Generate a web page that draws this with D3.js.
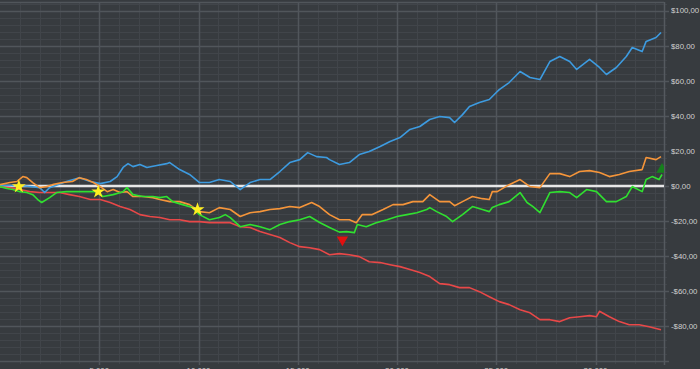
<!DOCTYPE html>
<html>
<head>
<meta charset="utf-8">
<script src="https://cdn.jsdelivr.net/npm/d3@7"></script>
<style>
  html, body { margin: 0; padding: 0; background: #373b3f; overflow: hidden; }
  svg { display: block; }
</style>
</head>
<body>
<svg id="chart"></svg>
<script>
// trade number vs cumulative profit ($)
const blueSeries = [[0,0.2],[500,0.2],[1000,0.2],[1500,-0.4],[2000,-1.0],[2250,-3.8],[2500,-1.0],[3350,2.5],[4000,4.7],[4550,2.5],[5050,1.3],[5550,2.5],[5900,5.3],[6200,10.5],[6450,12.7],[6700,11.0],[7050,12.2],[7400,10.5],[7900,11.6],[8400,12.7],[8550,13.3],[9050,9.3],[9550,6.5],[10050,1.9],[10550,1.9],[11050,3.6],[11600,2.5],[12100,-2.1],[12600,1.9],[13100,3.6],[13600,3.6],[14100,8.2],[14600,13.3],[15100,15.0],[15500,19.0],[15950,16.7],[16450,16.2],[16600,15.0],[17100,12.2],[17600,13.3],[18100,17.9],[18600,19.6],[19150,22.5],[19650,25.3],[20150,27.6],[20650,32.2],[21150,33.9],[21650,37.9],[22150,39.6],[22650,39.0],[22900,36.2],[23300,40.7],[23650,45.3],[24150,47.6],[24650,49.3],[25000,53.3],[25150,55.0],[25650,59.0],[26200,65.3],[26700,61.9],[27200,60.7],[27700,71.0],[28200,73.9],[28700,71.0],[29050,66.5],[29700,72.2],[30200,67.6],[30550,63.6],[31050,67.6],[31550,73.9],[31850,79.0],[32350,76.7],[32550,82.5],[33050,84.7],[33300,87.6]];

const orangeSeries = [[0,0.7],[500,1.9],[850,2.5],[1150,5.3],[1350,4.7],[1650,1.9],[2000,-1.0],[2350,-0.4],[2650,0.7],[3150,1.9],[3650,2.5],[4000,4.7],[4350,3.6],[4700,1.9],[5050,-0.4],[5400,-3.3],[5700,-2.1],[6050,-3.8],[6400,-3.3],[6700,-6.1],[7200,-6.1],[7700,-6.7],[8050,-7.8],[8550,-9.0],[9050,-9.0],[9550,-10.7],[10050,-14.7],[10550,-15.3],[11050,-12.4],[11600,-13.5],[12100,-17.5],[12600,-15.3],[13100,-14.7],[13600,-13.5],[14100,-13.0],[14600,-11.8],[15100,-12.4],[15700,-9.5],[16100,-11.8],[16600,-16.4],[17100,-19.3],[17600,-19.3],[17950,-21.0],[18250,-16.4],[18750,-16.4],[19300,-13.5],[19800,-10.7],[20300,-10.7],[20800,-9.0],[21300,-9.0],[21650,-5.0],[22150,-9.0],[22650,-9.0],[22900,-11.3],[23300,-9.0],[23800,-6.1],[24300,-7.3],[24650,-7.8],[24800,-3.3],[25050,-3.3],[25650,0.7],[26200,3.6],[26700,-0.4],[27200,-1.0],[27700,7.0],[28200,7.0],[28700,5.3],[29200,8.2],[29700,8.7],[30200,7.6],[30700,5.3],[31200,6.5],[31700,8.2],[32350,9.3],[32550,16.2],[33050,15.0],[33300,16.7]];

const greenSeries = [[0,-0.4],[350,-1.5],[650,-2.1],[1000,-3.3],[1350,-3.8],[1650,-5.0],[1900,-7.8],[2100,-9.5],[2500,-6.7],[2850,-3.8],[3350,-3.3],[3850,-3.3],[4350,-3.3],[4900,-3.3],[5200,-6.1],[5700,-5.0],[6200,-3.3],[6400,-1.0],[6700,-5.0],[7200,-6.1],[7700,-6.1],[8050,-6.7],[8400,-6.1],[8700,-9.0],[9200,-10.7],[9700,-12.4],[10050,-16.4],[10550,-19.3],[11050,-18.1],[11350,-16.4],[11600,-18.1],[12100,-23.3],[12600,-22.1],[13100,-23.3],[13600,-25.0],[14100,-22.1],[14600,-20.4],[15100,-19.3],[15600,-17.5],[16100,-20.9],[16600,-23.8],[17100,-26.4],[17450,-26.1],[17850,-26.7],[18000,-22.1],[18450,-23.3],[18950,-21.0],[19500,-19.3],[20000,-17.5],[20500,-16.4],[21000,-15.3],[21500,-13.5],[21650,-12.4],[22000,-14.7],[22500,-17.5],[22800,-20.4],[23300,-16.4],[23800,-11.8],[24300,-13.5],[24650,-14.7],[24800,-12.4],[25150,-10.7],[25650,-9.0],[26200,-3.8],[26550,-9.5],[26850,-11.8],[27200,-15.3],[27700,-3.8],[28200,-3.3],[28700,-3.8],[29050,-6.7],[29550,-2.1],[30050,-3.3],[30550,-9.0],[31050,-9.0],[31550,-6.1],[31850,-0.4],[32350,-3.3],[32550,3.6],[32850,5.3],[33200,3.6],[33350,6.5]];

const redSeries = [[0,-0.4],[500,-1.0],[1000,-2.1],[1500,-3.3],[2000,-3.8],[2500,-3.8],[3000,-3.8],[3500,-5.0],[4000,-6.1],[4550,-7.8],[5050,-7.8],[5550,-9.5],[6050,-11.8],[6550,-13.5],[7050,-16.4],[7550,-17.5],[8050,-18.1],[8550,-19.3],[9050,-19.3],[9550,-20.4],[10050,-20.4],[10550,-21.0],[11050,-21.0],[11600,-21.0],[12100,-23.3],[12600,-23.8],[13100,-26.1],[13600,-27.8],[14100,-29.5],[14600,-32.4],[15100,-34.7],[15600,-35.3],[16100,-36.4],[16600,-39.3],[17100,-38.7],[17600,-39.3],[18100,-40.4],[18600,-43.3],[19150,-43.8],[19650,-45.0],[20150,-46.1],[20650,-47.8],[21150,-49.5],[21650,-51.8],[22150,-55.8],[22650,-56.4],[23150,-58.1],[23650,-58.1],[24150,-60.4],[24650,-63.3],[25150,-66.1],[25650,-67.8],[26200,-70.7],[26700,-72.5],[27200,-76.4],[27700,-76.4],[28200,-77.5],[28700,-75.3],[29200,-74.7],[29700,-74.1],[30050,-74.7],[30200,-71.6],[30700,-74.7],[31200,-77.5],[31700,-79.3],[32200,-79.3],[32700,-80.4],[33300,-82.1]];

const starMarks = [[950,-0.4],[4950,-3.3],[9950,-13.5]];
const downMarks = [[17250,-30.7]];
const upMarks = [[33350,9.3]];

const yTicks = [100,80,60,40,20,0,-20,-40,-60,-80];
const xTicks = [5000,10000,15000,20000,25000,30000];

const W = 700, H = 369;
const plot = { left: 0, right: 664, top: 2, bottom: 361 };

const svg = d3.select("#chart").attr("width", W).attr("height", H);

svg.append("rect").attr("width", W).attr("height", H).attr("fill", "#373b3f");

const x = d3.scaleLinear().domain([0, 33450]).range([plot.left, plot.right]);
const y = d3.scaleLinear().domain([-100, 105]).range([plot.bottom, plot.top]);

// minor grid
const grid = svg.append("g");
grid.selectAll(".ymin")
  .data(d3.range(-100, 105, 4))
  .enter().append("line")
  .attr("x1", plot.left).attr("x2", plot.right + 3)
  .attr("y1", d => Math.round(y(d)) + 0.5).attr("y2", d => Math.round(y(d)) + 0.5)
  .attr("stroke", "#41454a").attr("stroke-width", 1);

grid.selectAll(".xmin")
  .data(d3.range(1000, 33450, 1000))
  .enter().append("line")
  .attr("x1", d => Math.round(x(d)) + 0.5).attr("x2", d => Math.round(x(d)) + 0.5)
  .attr("y1", plot.top).attr("y2", plot.bottom + 3)
  .attr("stroke", "#41454a").attr("stroke-width", 1);

// major grid
grid.selectAll(".ymaj")
  .data(d3.range(-100, 105, 20))
  .enter().append("line")
  .attr("x1", plot.left).attr("x2", plot.right + 5)
  .attr("y1", d => Math.round(y(d)) + 0.5).attr("y2", d => Math.round(y(d)) + 0.5)
  .attr("stroke", "#51565b").attr("stroke-width", 1.5);

grid.selectAll(".xmaj")
  .data(d3.range(5000, 33450, 5000))
  .enter().append("line")
  .attr("x1", d => Math.round(x(d)) + 0.5).attr("x2", d => Math.round(x(d)) + 0.5)
  .attr("y1", plot.top).attr("y2", plot.bottom + 4)
  .attr("stroke", "#51565b").attr("stroke-width", 1.5);

// plot border
svg.append("line")
  .attr("x1", plot.right + 0.5).attr("x2", plot.right + 0.5)
  .attr("y1", plot.top).attr("y2", plot.bottom + 4)
  .attr("stroke", "#555a5f").attr("stroke-width", 1.5);
svg.append("line")
  .attr("x1", plot.left).attr("x2", plot.right)
  .attr("y1", plot.top + 0.5).attr("y2", plot.top + 0.5)
  .attr("stroke", "#51565b").attr("stroke-width", 1.5);

// zero line
svg.append("line")
  .attr("x1", plot.left).attr("x2", plot.right)
  .attr("y1", y(0)).attr("y2", y(0))
  .attr("stroke", "#e6e6e6").attr("stroke-width", 2.5);

svg.append("clipPath").attr("id", "clip")
  .append("rect")
  .attr("x", plot.left).attr("y", plot.top)
  .attr("width", plot.right - plot.left).attr("height", plot.bottom - plot.top);

const line = d3.line()
  .x(d => x(d[0]))
  .y(d => y(d[1]));

const lines = svg.append("g").attr("clip-path", "url(#clip)");
const series = [
  { data: redSeries, color: "#e84848" },
  { data: blueSeries, color: "#3d9be0" },
  { data: orangeSeries, color: "#f5953a" },
  { data: greenSeries, color: "#30e030" }
];
series.forEach(s => {
  lines.append("path")
    .datum(s.data)
    .attr("fill", "none")
    .attr("stroke", s.color)
    .attr("stroke-width", 1.6)
    .attr("stroke-linejoin", "round")
    .attr("d", line);
});

// markers
const marks = svg.append("g").attr("clip-path", "url(#clip)");
marks.selectAll(".star")
  .data(starMarks)
  .enter().append("path")
  .attr("d", d3.symbol().type(d3.symbolStar).size(60))
  .attr("transform", d => `translate(${ x(d[0]) }, ${ y(d[1]) })`)
  .attr("fill", "#ffee22");

marks.selectAll(".down")
  .data(downMarks)
  .enter().append("path")
  .attr("d", d3.symbol().type(d3.symbolTriangle).size(55))
  .attr("transform", d => `translate(${ x(d[0]) }, ${ y(d[1]) }) rotate(180)`)
  .attr("fill", "#e01010");

marks.selectAll(".up")
  .data(upMarks)
  .enter().append("path")
  .attr("d", d3.symbol().type(d3.symbolTriangle).size(55))
  .attr("transform", d => `translate(${ x(d[0]) }, ${ y(d[1]) })`)
  .attr("fill", "#16801c");

// y labels on the right
const money = v => (v < 0 ? "-$" : "$") + Math.abs(v) + ",00";
svg.selectAll(".ylab")
  .data(yTicks)
  .enter().append("text")
  .attr("x", 671)
  .attr("y", d => y(d))
  .attr("dy", "0.35em")
  .attr("font-family", "'Liberation Sans', Arial, sans-serif")
  .attr("font-size", "7.8px")
  .attr("fill", "#d0d0d0")
  .text(money);

// x labels (mostly cut off at the bottom)
svg.selectAll(".xlab")
  .data(xTicks)
  .enter().append("text")
  .attr("x", d => x(d))
  .attr("y", 373)
  .attr("text-anchor", "middle")
  .attr("font-family", "'Liberation Sans', Arial, sans-serif")
  .attr("font-size", "7.8px")
  .attr("fill", "#d0d0d0")
  .text(d3.format(","));
</script>
</body>
</html>
